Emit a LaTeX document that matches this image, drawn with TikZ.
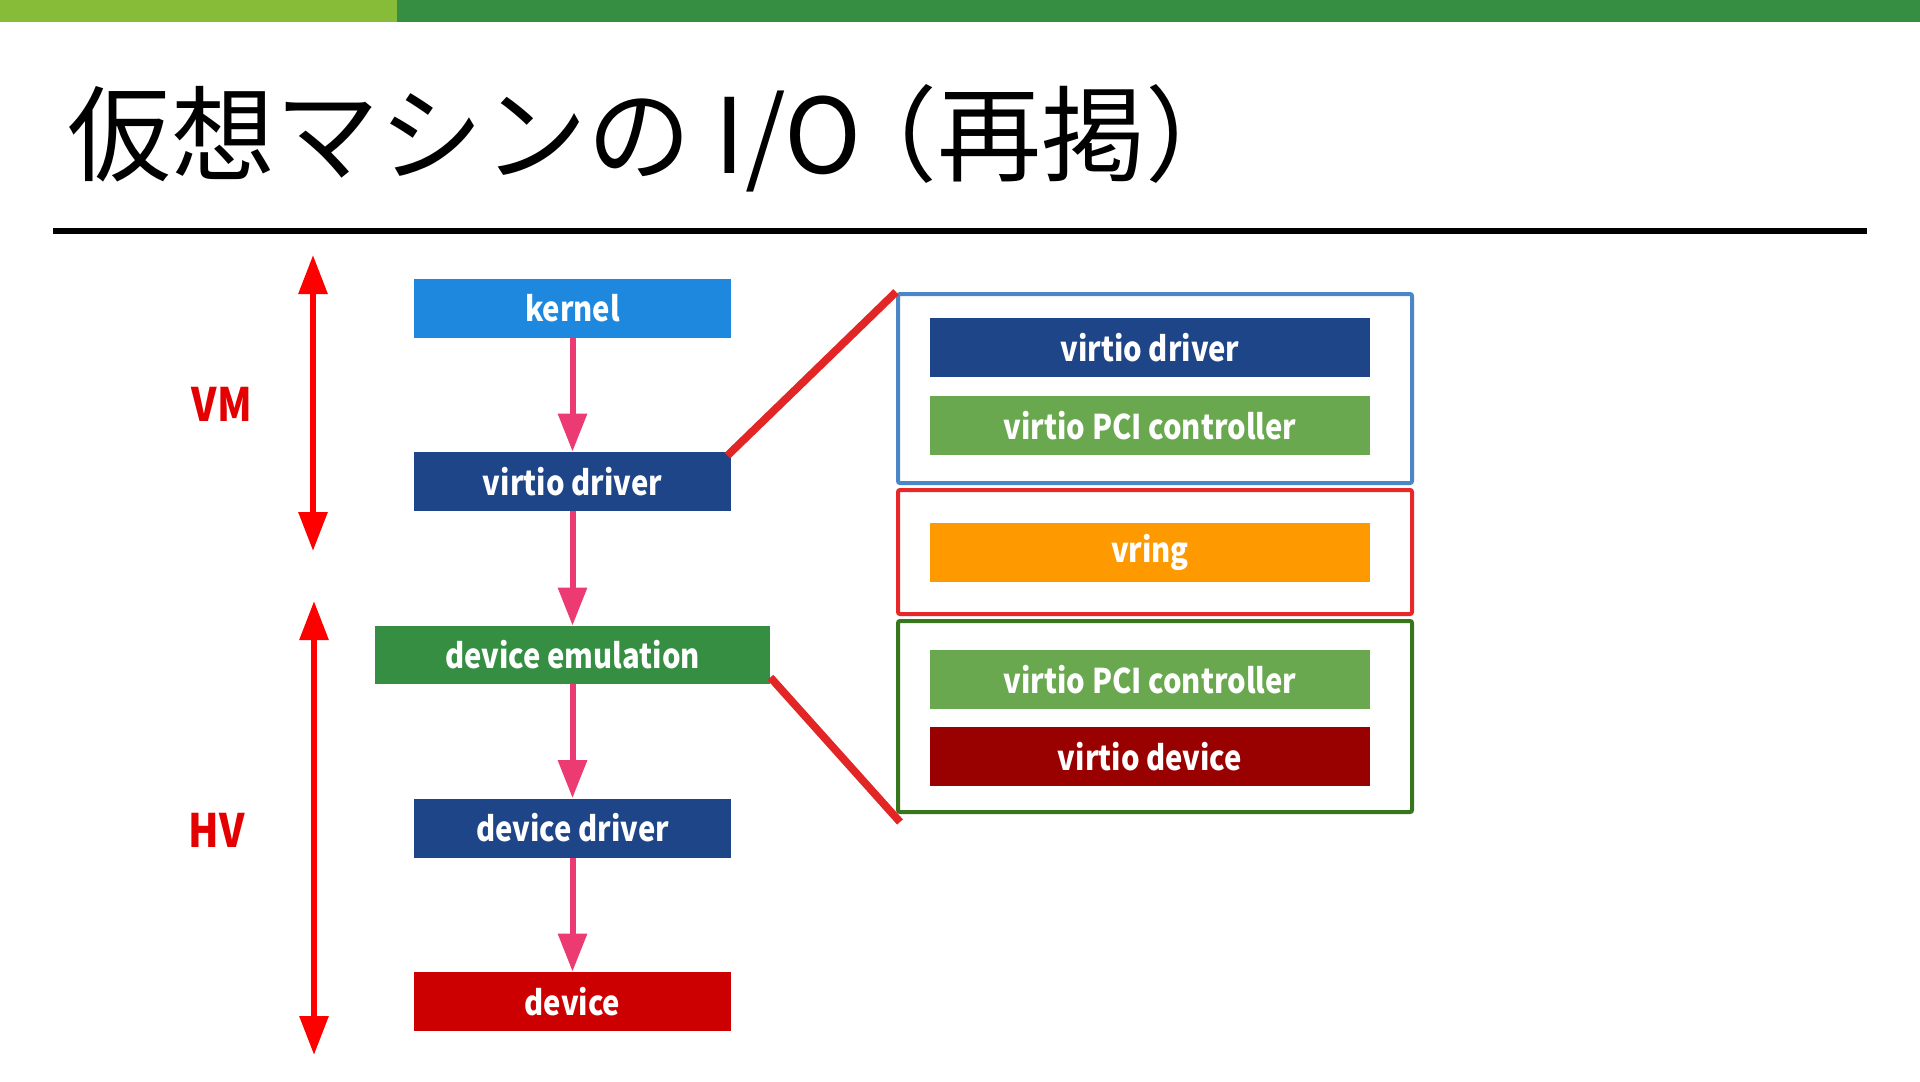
\documentclass[tikz,border=0pt]{standalone}
\usepackage{fontspec}
\setmainfont{Noto Sans CJK JP}
\usetikzlibrary{arrows.meta}
\definecolor{barlight}{RGB}{134,188,55}
\definecolor{bardark}{RGB}{54,142,66}
\definecolor{kblue}{RGB}{30,136,222}
\definecolor{dblue}{RGB}{29,69,135}
\definecolor{emugreen}{RGB}{54,142,66}
\definecolor{devred}{RGB}{204,0,0}
\definecolor{pcigreen}{RGB}{106,168,79}
\definecolor{vringor}{RGB}{255,153,0}
\definecolor{vdevred}{RGB}{153,0,0}
\definecolor{fblue}{RGB}{74,134,200}
\definecolor{fred}{RGB}{230,40,40}
\definecolor{fgreen}{RGB}{56,118,29}
\definecolor{pinkarr}{RGB}{236,58,114}
\definecolor{diagred}{RGB}{226,38,38}
\definecolor{lblred}{RGB}{228,0,0}
\newcommand{\lab}[1]{\scalebox{0.86}[1]{#1}}
\begin{document}
\begin{tikzpicture}[x=0.5pt,y=-0.5pt,
  blk/.style={rectangle, inner sep=0, minimum width=158.5pt, minimum height=29.5pt,
    text=white, font=\fontsize{17}{20}\selectfont\bfseries},
  inblk/.style={blk, minimum width=220pt},
  frame/.style={rectangle, draw, line width=2pt, rounded corners=1pt, inner sep=0,
    minimum width=257pt},
  flow/.style={draw=pinkarr, line width=3pt, -{Triangle[width=14pt,length=19pt]}},
  span/.style={draw=red, line width=3pt, {Triangle[width=14pt,length=19.5pt]}-{Triangle[width=14pt,length=19.5pt]}},
  zoomline/.style={draw=diagred, line width=3.9pt},
  side/.style={text=lblred, font=\fontsize{23}{26}\selectfont\bfseries, inner sep=0}]
\useasboundingbox (0,0) rectangle (1920,1081);
\fill[white] (0,0) rectangle (1920,1081);
% top bar
\fill[bardark] (397,0) rectangle (1920,22);
\fill[barlight] (0,0) rectangle (397,22);
% title
\node[anchor=base west, inner sep=0, font=\fontsize{52}{60}\selectfont] (title) at (67,173) {仮想マシンの I/O\kern-0.27em（再掲）};
\draw[line width=3pt] (53,231) -- (1867,231);
% left stack
\node[blk, fill=kblue] (kernel) at (572.5,308.5) {\lab{kernel}};
\node[blk, fill=dblue] (vdrv) at (572.5,481.5) {\lab{virtio driver}};
\node[blk, fill=emugreen, minimum width=197.5pt, minimum height=29pt] (emu) at (572.5,655) {\lab{device emulation}};
\node[blk, fill=dblue] (ddrv) at (572.5,828) {\lab{device driver}};
\node[blk, fill=devred] (dev) at (572.5,1001.5) {\lab{device}};
\draw[flow] (kernel) -- (vdrv);
\draw[flow] (vdrv) -- (emu);
\draw[flow] (emu) -- (ddrv);
\draw[flow] (ddrv) -- (dev);
% VM / HV
\coordinate (vmtop) at (313,255);
\coordinate (vmbot) at (313,551);
\coordinate (hvtop) at (314,601);
\coordinate (hvbot) at (314,1055);
\draw[span] (vmtop) -- (vmbot);
\draw[span] (hvtop) -- (hvbot);
\node[side] (vm) at (222,404) {\lab{VM}};
\node[side] (hv) at (217,830) {\lab{HV}};
% right frames
\node[frame, draw=fblue, minimum height=94.5pt] (bframe) at (1155,388.5) {};
\node[frame, draw=fred, minimum height=62pt] (rframe) at (1155,552) {};
\node[frame, draw=fgreen, minimum height=95.5pt] (gframe) at (1155,716.5) {};
\node[inblk, fill=dblue] (vd2) at (1150,347.5) {\lab{virtio driver}};
\node[inblk, fill=pcigreen] (pci1) at (1150,425.5) {\lab{virtio PCI controller}};
\node[inblk, fill=vringor] (vring) at (1150,552.5) {\lab{vring}};
\node[inblk, fill=pcigreen] (pci2) at (1150,679.5) {\lab{virtio PCI controller}};
\node[inblk, fill=vdevred] (vdev) at (1150,756.5) {\lab{virtio device}};
% zoom lines
\draw[zoomline] ([xshift=-2pt,yshift=-2pt]vdrv.north east) -- (bframe.north west);
\draw[zoomline] ([yshift=3.5pt]emu.south east) -- ([xshift=2pt,yshift=-4pt]gframe.south west);
\end{tikzpicture}
\end{document}
